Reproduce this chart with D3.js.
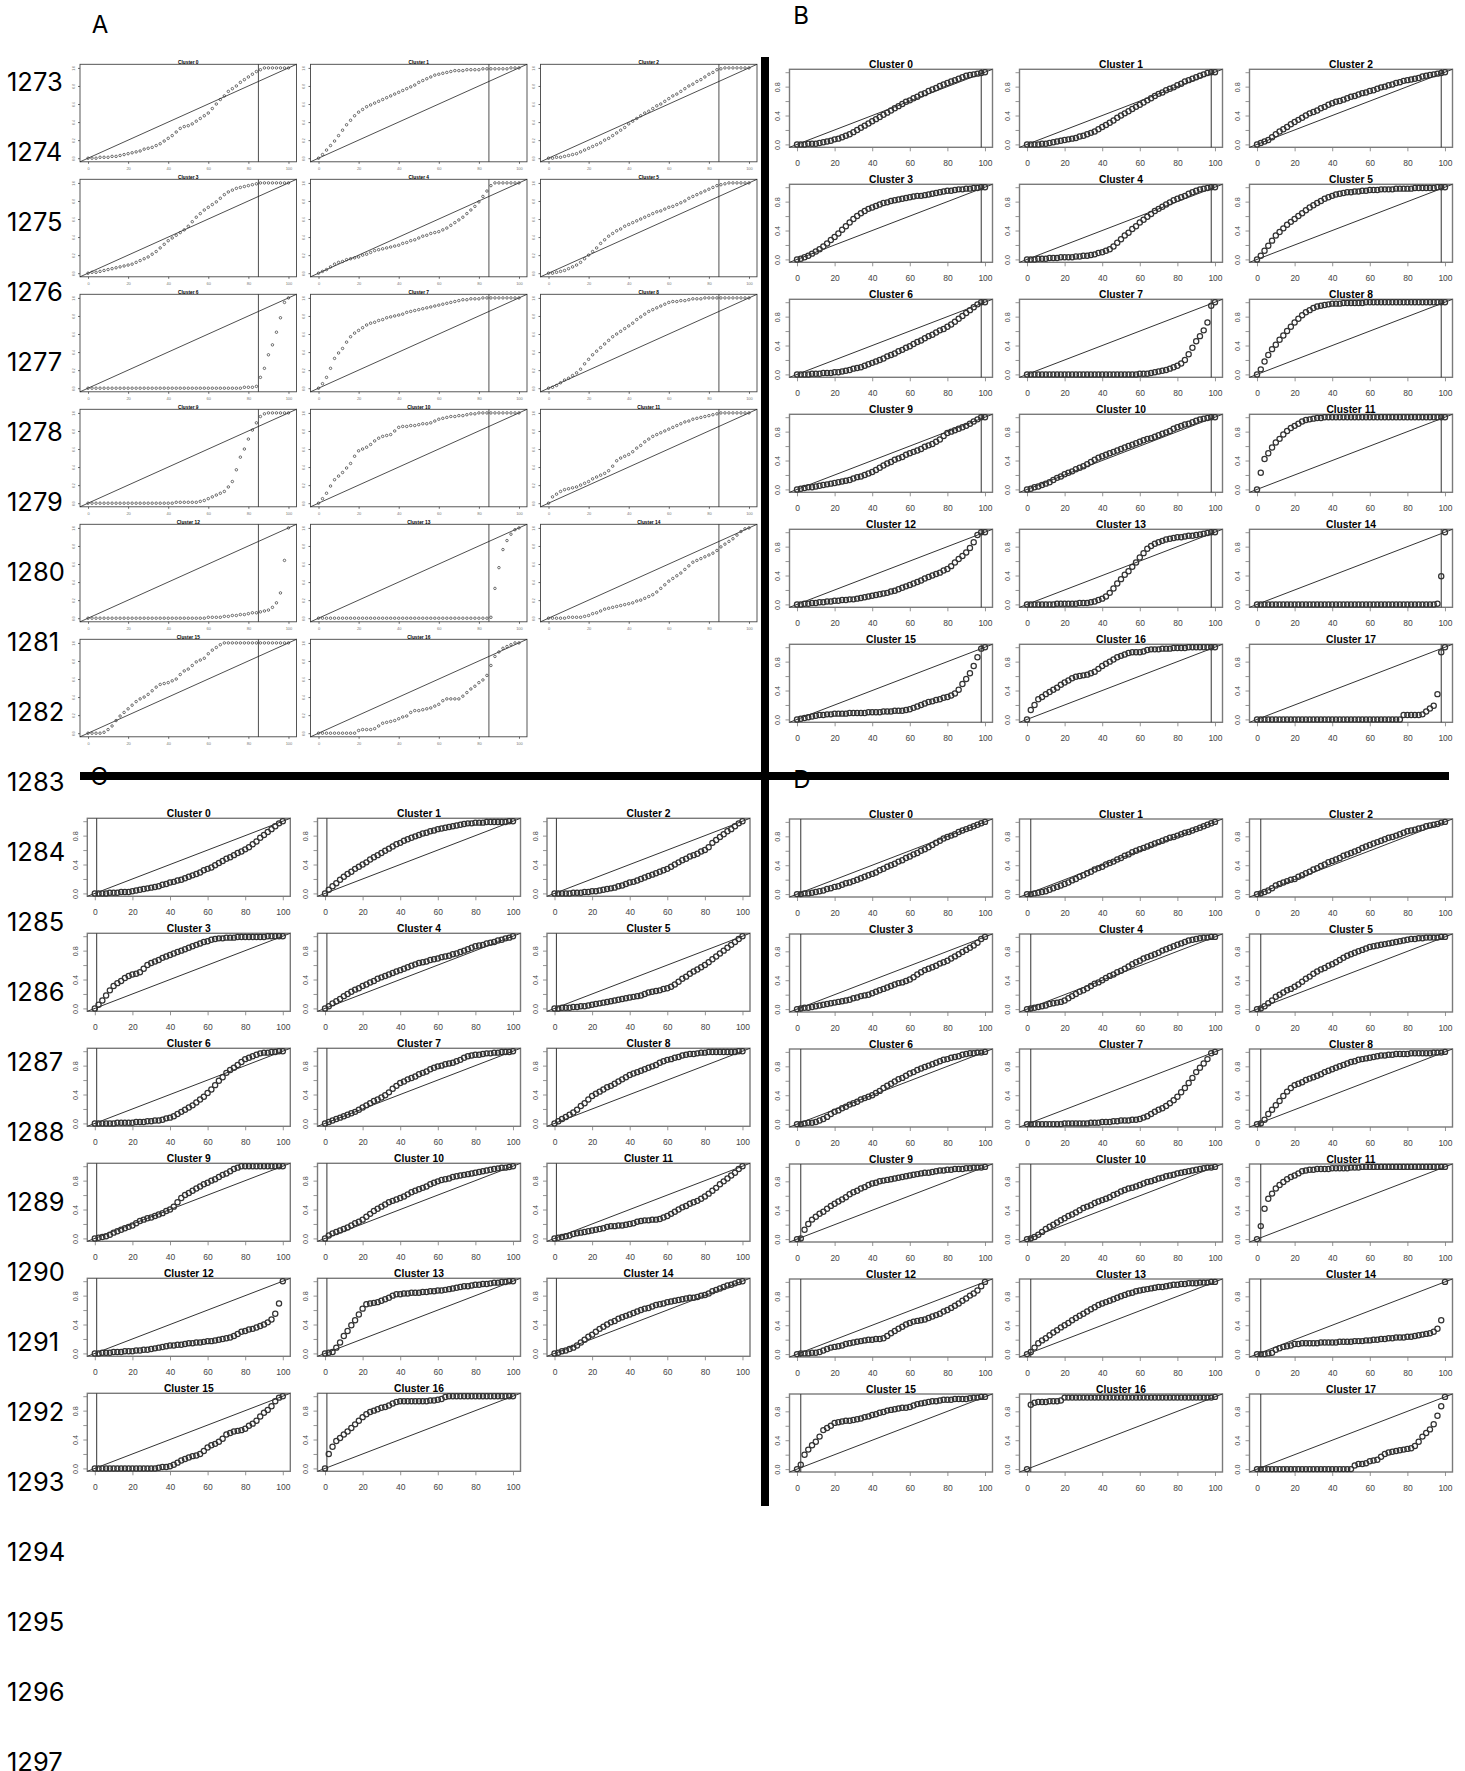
<!DOCTYPE html>
<html>
<head>
<meta charset="utf-8">
<script src="https://cdn.jsdelivr.net/npm/d3@7"></script>
<style>
  body { margin: 0; background: #fff; }
  svg { display: block; }
</style>
</head>
<body>
<svg id="fig" width="1465" height="1771"></svg>
<script>
// Percentile positions shared by every cumulative curve
const xPct = [0,2,4,6,8,10,12,14,16,18,20,22,24,26,28,30,32,34,36,38,40,42,44,46,48,50,
              52,54,56,58,60,62,64,66,68,70,72,74,76,78,80,82,84,86,88,90,92,94,96,98,100];

const xTicks = [0, 20, 40, 60, 80, 100];
const yTicks = [0, 0.2, 0.4, 0.6, 0.8, 1.0];
const yLabelsSmall = ["0.0", "0.2", "0.4", "0.6", "0.8", "1.0"];
const yLabelsLarge = ["0.0", "", "0.4", "", "0.8", ""];

const clusterTitles = ["Cluster 0","Cluster 1","Cluster 2","Cluster 3","Cluster 4","Cluster 5",
  "Cluster 6","Cluster 7","Cluster 8","Cluster 9","Cluster 10","Cluster 11","Cluster 12",
  "Cluster 13","Cluster 14","Cluster 15","Cluster 16","Cluster 17"];

const rowLabels = [1273,1274,1275,1276,1277,1278,1279,1280,1281,1282,1283,1284,1285,
                   1286,1287,1288,1289,1290,1291,1292,1293,1294,1295,1296,1297];

const panelLetters = ["A", "B", "C", "D"];

// Reference (vertical line) position for each panel, in percentile units
const cutoffA = 85, cutoffB = 98, cutoffC = 1, cutoffD = 2;

// Cumulative fraction (%) at each percentile, one row per cluster
const curvesA = [
  [0,0,0,1,1,1,2,2,3,4, 5,6,7,8,10,11,12,14,16,19, 22,25,29,33,35,36,38,41,44,47, 50,55,60,65,69,74,77,80,84,87, 90,93,96,98,100,100,100,100,100,100, 100],
  [0,4,9,14,19,25,31,37,42,47, 51,54,57,59,61,63,65,67,69,71, 73,75,77,79,81,84,86,88,90,92, 93,94,95,96,97,97,97,98,98,98, 98,99,99,99,99,99,99,99,100,100, 100],
  [0,0,1,1,2,3,4,5,7,9, 11,13,15,17,20,22,25,28,31,34, 38,41,44,47,50,52,55,58,60,63, 66,69,71,74,77,80,82,85,87,90, 93,95,98,99,100,100,100,100,100,100, 100],
  [0,1,1,2,3,4,5,6,7,8, 9,10,12,14,16,18,21,24,28,32, 36,39,42,45,48,52,57,62,66,70, 73,76,79,83,87,90,92,94,95,96, 97,98,99,100,100,100,100,100,100,100, 100],
  [0,2,4,7,10,12,13,15,16,17, 18,20,21,23,25,26,27,28,29,30, 31,33,34,36,37,39,41,42,44,45, 46,48,50,53,56,59,62,66,70,74, 79,85,91,97,100,100,100,100,100,100, 100],
  [0,0,1,2,3,5,7,9,12,16, 20,24,28,33,37,41,44,47,49,52, 54,56,58,60,62,64,66,68,69,71, 73,74,76,78,80,83,85,87,89,91, 93,95,97,98,99,100,100,100,100,100, 100],
  [0,0,0,0,0,0,0,0,0,0, 0,0,0,0,0,0,0,0,0,0, 0,0,0,0,0,0,0,0,0,0, 0,0,0,0,0,0,0,0,0,1, 1,1,2,12,22,37,48,62,78,95, 100],
  [0,5,12,22,33,39,44,51,57,61, 64,67,70,72,73,75,76,78,79,80, 81,82,84,85,86,87,88,89,90,91, 92,93,94,95,96,97,98,98,99,99, 99,100,100,100,100,100,100,100,100,100, 100],
  [0,1,3,6,9,11,14,17,21,27, 32,37,41,45,49,53,57,60,63,66, 69,72,76,79,82,85,87,89,91,93, 95,96,96,97,97,98,99,99,99,100, 100,100,100,100,100,100,100,100,100,100, 100],
  [0,0,0,0,0,0,0,0,0,0, 0,0,0,0,0,0,0,0,0,0, 0,0,1,1,1,1,1,1,2,3, 5,7,9,11,13,18,24,37,51,60, 71,81,89,96,99,100,100,100,100,100, 100],
  [0,5,11,19,26,30,34,39,44,52, 58,60,62,65,69,72,74,75,76,80, 84,85,85,86,86,87,88,88,89,91, 93,94,95,96,96,97,97,98,99,99, 100,100,100,100,100,100,100,100,100,100, 100],
  [0,7,10,13,15,16,17,18,20,22, 24,27,29,31,33,36,41,47,50,52, 54,57,61,64,68,71,74,76,78,80, 82,84,86,88,90,91,93,94,95,96, 97,98,99,100,100,100,100,100,100,100, 100],
  [0,0,0,0,0,0,0,0,0,0, 0,0,0,0,0,0,0,0,0,0, 0,0,0,0,0,0,0,0,0,0, 1,1,1,1,2,2,3,3,4,4, 5,6,6,7,8,9,12,17,28,64, 100],
  [0,0,0,0,0,0,0,0,0,0, 0,0,0,0,0,0,0,0,0,0, 0,0,0,0,0,0,0,0,0,0, 0,0,0,0,0,0,0,0,0,0, 0,0,0,1,33,56,76,86,93,98, 100],
  [0,0,0,0,0,1,1,1,1,2, 3,5,6,8,10,11,12,13,14,15, 16,17,19,20,22,24,26,29,33,37, 41,44,47,50,54,58,62,64,66,68, 70,72,75,79,82,85,88,92,96,99, 100],
  [0,0,0,0,1,4,8,14,19,23, 27,31,35,38,40,43,47,51,54,55, 56,58,60,65,69,71,75,79,81,83, 88,92,95,98,100,100,100,100,100,100, 100,100,100,100,100,100,100,100,100,100, 100],
  [0,0,0,0,0,0,0,0,0,0, 3,4,4,4,5,8,11,12,13,14, 16,18,19,23,25,25,26,27,28,30, 32,36,38,38,38,38,41,45,49,52, 56,59,64,75,85,90,94,96,98,100, 100]
];

const curvesB = [
  [0,0,0,1,1,1,2,3,4,5, 7,8,10,12,14,17,20,23,26,29, 32,35,38,41,44,47,50,53,56,59, 61,64,66,69,71,74,76,78,81,83, 85,87,89,91,93,95,96,97,98,99, 100],
  [0,0,0,0,1,1,2,3,4,5, 6,7,8,9,11,12,14,16,18,21, 24,27,30,33,37,40,43,46,49,52, 55,58,61,64,67,70,72,75,77,79, 82,84,87,89,91,93,95,97,99,100, 100],
  [0,2,4,6,10,14,18,21,24,28, 31,34,37,40,43,45,47,50,52,55, 57,59,60,62,64,66,67,69,71,72, 74,75,77,79,80,82,83,85,86,88, 89,90,91,92,94,95,96,97,98,99, 100],
  [0,1,3,5,8,11,14,18,22,27, 31,36,41,46,51,56,60,64,67,70, 72,74,76,78,79,81,82,83,84,85, 86,87,88,88,89,90,91,92,93,94, 95,95,96,97,97,98,98,99,99,100, 100],
  [0,0,0,1,1,1,2,2,2,3, 3,3,3,4,4,5,5,6,7,9, 10,12,14,18,23,28,33,37,42,46, 51,55,59,63,67,70,73,76,79,82, 84,86,88,91,93,95,97,98,99,100, 100],
  [0,5,12,19,26,33,38,43,48,52, 56,60,64,68,72,75,78,81,84,86, 88,90,91,92,93,93,94,94,95,95, 96,96,96,97,97,97,97,98,98,98, 98,98,99,99,99,99,99,99,100,100, 100],
  [0,0,0,0,1,1,1,2,2,2, 3,3,4,5,6,8,9,10,12,14, 16,18,20,22,25,27,29,32,34,37, 39,42,45,47,50,53,55,58,61,63, 66,69,73,77,81,85,89,93,97,100, 100],
  [0,0,0,0,0,0,0,0,0,0, 0,0,0,0,0,0,0,0,0,0, 0,0,0,0,0,0,0,0,0,0, 1,1,1,2,3,4,5,6,8,10, 12,15,20,28,37,46,53,61,72,95, 100],
  [0,7,18,27,35,41,48,54,60,66, 72,77,82,86,89,92,94,95,96,97, 98,98,98,99,99,99,99,99,99,100, 100,100,100,100,100,100,100,100,100,100, 100,100,100,100,100,100,100,100,100,100, 100],
  [0,1,2,3,3,4,5,6,7,8, 9,10,11,12,13,15,17,18,20,22, 24,27,30,33,36,38,41,43,45,48, 50,52,54,56,59,61,63,66,69,74, 78,80,82,84,86,88,91,94,97,100, 100],
  [0,1,3,4,6,8,10,13,16,18, 21,23,25,28,30,32,35,38,41,44, 46,48,50,52,54,56,58,60,62,64, 66,68,70,71,73,75,77,79,81,84, 86,88,90,91,93,95,97,98,99,100, 100],
  [0,23,42,50,58,65,70,76,81,85, 88,91,94,96,97,98,99,99,100,100, 100,100,100,100,100,100,100,100,100,100, 100,100,100,100,100,100,100,100,100,100, 100,100,100,100,100,100,100,100,100,100, 100],
  [0,0,1,1,2,2,3,3,4,4, 5,5,6,6,7,7,8,9,10,11, 12,13,14,15,16,18,19,21,23,25, 27,29,31,33,36,38,40,42,44,47, 49,53,58,63,67,72,78,86,96,100, 100],
  [0,0,0,0,0,0,0,0,1,1, 1,1,1,1,2,2,2,3,4,6, 8,11,16,22,29,35,41,46,52,58, 65,71,77,81,84,86,88,90,91,92, 93,93,94,95,95,96,97,98,99,100, 100],
  [0,0,0,0,0,0,0,0,0,0, 0,0,0,0,0,0,0,0,0,0, 0,0,0,0,0,0,0,0,0,0, 0,0,0,0,0,0,0,0,0,0, 0,0,0,0,0,0,0,0,1,39, 100],
  [0,1,2,3,4,5,6,6,7,7, 8,8,8,8,9,9,9,9,9,10, 10,10,10,11,11,11,12,12,12,13, 14,16,18,20,22,24,25,27,28,30, 31,33,36,41,49,56,64,74,86,98, 100],
  [0,13,20,28,31,35,38,41,44,48, 51,54,57,59,60,61,62,64,66,70, 74,77,80,83,86,88,90,92,93,93, 93,94,96,97,97,97,98,98,98,99, 99,99,99,100,100,100,100,100,100,100, 100],
  [0,0,0,0,0,0,0,0,0,0, 0,0,0,0,0,0,0,0,0,0, 0,0,0,0,0,0,0,0,0,0, 0,0,0,0,0,0,0,0,0,6, 6,6,6,6,7,11,15,19,35,93, 100]
];

const curvesC = [
  [0,0,0,0,1,1,1,2,2,2, 3,4,5,6,7,8,9,10,12,13, 15,16,18,19,21,23,25,27,29,32, 34,36,39,42,45,48,50,53,56,58, 61,64,68,72,77,81,85,89,93,97, 100],
  [0,5,10,14,19,23,27,30,34,37, 40,43,47,50,53,56,59,62,65,68, 70,73,75,77,79,81,83,84,86,87, 89,90,91,92,93,94,95,96,97,97, 98,98,98,99,99,99,99,99,99,100, 100],
  [0,0,0,0,0,1,1,1,2,2, 3,3,4,5,6,7,8,10,11,13, 15,16,18,20,22,24,26,28,30,32, 34,37,40,43,46,48,51,53,55,58, 60,64,70,74,78,82,86,89,93,97, 100],
  [0,5,11,18,25,31,35,38,42,45, 47,48,50,55,60,63,65,67,70,72, 74,76,78,80,82,84,86,88,90,92, 93,95,96,97,97,98,98,98,99,99, 99,99,99,99,99,99,100,100,100,100, 100],
  [0,3,7,10,13,17,20,23,26,28, 31,33,36,38,41,43,45,47,49,51, 53,55,57,59,61,63,64,65,67,68, 69,71,72,73,75,76,78,80,82,84, 86,87,88,90,91,92,94,95,97,98, 100],
  [0,0,1,1,1,2,2,3,3,4, 5,6,7,8,9,10,11,12,13,14, 15,16,17,18,20,22,23,24,25,27, 28,30,33,37,41,44,48,51,54,57, 60,64,68,72,76,80,84,88,92,96, 100],
  [0,0,0,0,0,0,1,1,1,1, 1,2,2,2,3,3,4,4,5,7, 8,10,13,16,19,22,25,29,33,37, 42,47,53,59,64,70,74,77,81,85, 89,91,93,95,97,98,98,99,99,100, 100],
  [0,2,4,6,8,10,12,14,16,19, 22,25,28,31,33,36,39,43,48,52, 56,58,61,63,65,68,70,72,75,77, 79,80,82,83,84,86,88,91,93,94, 95,95,96,97,97,98,98,99,99,99, 100],
  [0,3,6,9,12,15,19,24,28,33, 38,41,44,47,50,52,55,58,61,64, 67,69,71,73,75,77,79,81,84,86, 88,89,91,92,94,95,96,96,97,98, 98,99,99,99,99,99,99,99,99,100, 100],
  [0,1,2,3,5,8,10,12,14,16, 18,21,24,26,28,29,31,33,35,38, 40,44,50,56,60,63,66,69,72,75, 77,80,82,85,88,90,93,96,98,100, 100,100,100,100,100,100,100,100,100,100, 100],
  [0,4,7,9,11,13,15,18,21,23, 26,30,34,38,41,44,47,50,52,54, 56,58,61,64,66,68,70,72,75,77, 79,81,82,83,85,86,87,88,89,90, 91,92,93,94,95,96,97,98,98,99, 100],
  [0,1,2,3,4,6,7,8,9,10, 11,12,13,14,16,17,17,18,18,19, 20,21,23,24,25,25,26,26,27,29, 31,34,37,40,43,45,48,50,52,55, 58,62,66,70,75,79,83,87,91,96, 100],
  [0,0,1,1,1,2,2,2,3,3, 3,4,4,5,5,6,7,8,9,10, 11,11,12,12,13,14,14,15,15,16, 17,17,18,19,20,21,22,24,27,30, 31,33,34,36,38,40,43,47,55,69, 100],
  [0,1,2,8,15,24,31,39,46,54, 62,68,69,70,71,73,75,77,80,82, 82,83,83,84,84,84,85,85,86,86, 87,87,88,89,90,91,92,93,93,94, 95,95,96,96,97,98,98,99,99,100, 100],
  [0,1,3,4,6,8,11,15,19,23, 26,30,34,37,40,43,45,48,50,52, 54,56,58,60,62,63,65,67,68,69, 71,72,73,74,75,76,77,77,78,80, 81,83,86,88,90,92,94,95,97,99, 100],
  [0,0,0,0,0,0,0,0,0,0, 0,0,0,0,0,0,0,1,2,2, 3,5,8,11,13,15,17,18,20,24, 29,32,34,37,41,47,49,51,52,53, 55,59,62,66,72,77,81,86,93,98, 100],
  [0,20,30,38,42,47,51,56,61,66, 71,75,78,80,82,84,85,87,90,92, 93,93,93,93,93,93,93,93,94,94, 95,96,99,100,100,100,100,100,100,100, 100,100,100,100,100,100,100,100,100,100, 100]
];

const curvesD = [
  [0,0,1,1,2,3,4,5,7,8, 10,11,13,15,16,18,20,22,24,26, 28,30,33,35,38,40,42,45,47,50, 52,55,57,60,62,65,68,71,74,77, 79,81,83,86,88,90,92,94,96,98, 100],
  [0,0,1,2,3,4,6,8,10,12, 14,16,19,21,24,26,29,31,34,36, 38,41,43,45,48,50,53,55,58,60, 62,64,66,68,70,72,74,76,78,79, 81,83,85,86,88,90,92,94,96,98, 100],
  [0,1,3,5,8,12,14,16,18,20, 21,24,26,29,31,34,36,39,41,44, 46,48,50,53,55,57,59,61,64,66, 68,70,72,74,76,78,79,81,83,85, 87,88,89,91,92,94,95,96,97,99, 100],
  [0,1,2,2,3,4,5,6,7,8, 9,10,11,12,13,15,16,18,19,20, 22,24,26,28,30,32,34,36,37,39, 41,44,48,51,54,56,58,60,63,65, 67,70,73,76,79,82,85,88,92,97, 100],
  [0,1,2,3,4,5,7,8,9,10, 12,15,18,21,24,26,29,32,35,37, 40,43,46,48,51,53,56,59,62,65, 67,70,72,74,76,78,81,83,85,87, 89,91,93,95,96,97,98,99,99,100, 100],
  [0,1,4,8,12,17,20,23,26,28, 31,34,38,42,45,49,52,55,57,60, 62,65,68,71,74,76,78,80,82,84, 86,87,88,89,90,91,92,93,94,95, 96,97,97,98,98,99,99,99,99,100, 100],
  [0,0,1,2,2,3,5,7,10,14, 17,19,22,24,27,29,31,34,36,38, 40,43,46,50,53,56,59,62,64,67, 70,72,75,77,79,81,83,85,87,89, 90,92,93,94,96,97,98,98,99,99, 100],
  [0,0,0,0,0,0,0,0,0,0, 1,1,1,1,1,1,1,2,2,2, 3,3,3,4,4,5,5,5,6,6, 7,9,11,14,17,20,22,25,29,33, 38,44,50,57,64,72,78,84,90,98, 100],
  [0,1,6,14,20,26,32,39,45,50, 54,56,58,61,63,65,67,69,72,74, 76,78,80,82,84,86,87,89,90,91, 92,93,94,95,95,96,96,97,97,97, 97,98,98,98,98,98,98,99,99,99, 100],
  [0,1,13,21,27,31,35,38,42,46, 49,52,55,58,62,65,67,70,72,75, 77,78,80,81,82,83,84,85,86,87, 88,89,90,91,92,92,93,94,95,95, 96,96,97,97,97,98,98,99,99,99, 100],
  [0,1,3,6,10,14,17,20,23,26, 29,32,34,37,40,43,45,47,50,52, 54,56,58,61,63,66,68,70,71,73, 75,77,79,80,82,84,85,87,88,89, 91,92,93,94,95,96,97,98,99,99, 100],
  [0,18,42,56,63,70,75,79,83,86, 88,91,94,95,96,96,97,97,97,97, 98,98,98,98,98,99,99,99,100,100, 100,100,100,100,100,100,100,100,100,100, 100,100,100,100,100,100,100,100,100,100, 100],
  [0,1,1,1,2,2,3,5,7,9, 10,11,12,14,15,16,17,18,19,20, 20,21,21,22,25,29,32,35,38,41, 43,45,46,47,48,50,52,54,56,59, 61,64,67,70,74,77,81,84,88,94, 100],
  [0,3,9,15,19,22,26,30,33,37, 40,43,47,50,53,56,59,62,65,68, 70,72,74,76,78,80,82,84,85,87, 88,89,90,91,92,93,93,94,95,96, 96,97,97,98,98,98,99,99,99,100, 100],
  [0,0,0,1,2,6,8,10,11,12, 14,14,15,15,15,15,15,16,16,16, 16,16,17,17,17,17,18,18,18,19, 19,20,20,21,21,22,22,23,23,23, 24,24,25,26,27,28,29,31,35,47, 100],
  [0,6,20,27,33,38,45,54,57,60, 64,65,66,67,67,68,69,70,72,73, 75,76,78,79,81,82,83,84,85,85, 86,88,90,91,92,93,94,94,95,96, 96,96,97,97,97,97,98,99,99,100, 100],
  [0,89,92,93,93,93,94,94,94,95, 99,99,99,99,99,99,99,99,99,99, 99,99,99,99,99,99,99,99,99,99, 99,99,99,99,99,99,99,99,99,99, 99,99,99,99,99,99,99,99,99,99, 100],
  [0,0,0,0,0,0,0,0,0,0, 0,0,0,0,0,0,0,0,0,0, 0,0,0,0,0,0,5,7,7,8, 11,12,13,17,21,23,24,25,26,27, 28,29,32,38,45,50,55,62,74,87, 100]
];

// ---------------------------------------------------------------------------
const W = 1465, H = 1771;
const svg = d3.select("#fig");
svg.append("rect").attr("width", W).attr("height", H).attr("fill", "#fff");

const plotFont = "'Liberation Sans', Arial, Helvetica, sans-serif";
const labelFont = "Inter, 'Liberation Sans', Arial, sans-serif";

// Two drawing styles: the tiny thumbnails of A and the larger plots of B–D
const styleSmall = {
  w: 216.5, h: 97.5, titleSize: 4.8, titleGap: 0.6, tickSize: 4, tickLen: 2,
  xLabelGap: 8, yLabelGap: 5.5, r: 1.25, sw: 0.7, pointStroke: "#333",
  boxStroke: "#444", boxWidth: 0.9, lineStroke: "#222", lineWidth: 0.8,
  labelFill: "#777", yLabels: yLabelsSmall
};
const styleLarge = {
  w: 203, h: 78, titleSize: 10.3, titleGap: 1, tickSize: 8.5, tickLen: 4,
  xLabelGap: 18.5, yLabelGap: 9.5, r: 2.6, sw: 1.25, pointStroke: "#333",
  boxStroke: "#7a7a7a", boxWidth: 1.4, lineStroke: "#333", lineWidth: 1,
  labelFill: "#444", yLabels: yLabelsLarge
};

const panels = [
  { curves: curvesA, cutoff: cutoffA, cols: [80, 310.5, 540.5], top0: 64.3, st: styleSmall },
  { curves: curvesB, cutoff: cutoffB, cols: [789.5, 1019.5, 1249.5], top0: 69.3, st: styleLarge },
  { curves: curvesC, cutoff: cutoffC, cols: [87.3, 317.5, 547], top0: 818.3, st: styleLarge },
  { curves: curvesD, cutoff: cutoffD, cols: [789.5, 1019.5, 1249.5], top0: 819, st: styleLarge }
];
const rowStep = 115;

function drawPlot(vals, k, panel) {
  const st = panel.st;
  const left = panel.cols[k % 3];
  const top = panel.top0 + Math.floor(k / 3) * rowStep;
  const x = d3.scaleLinear().domain([-4, 104]).range([left, left + st.w]);
  const y = d3.scaleLinear().domain([-0.04, 1.04]).range([top + st.h, top]);
  const g = svg.append("g").attr("font-family", plotFont);

  // x axis
  const gx = g.append("g")
    .attr("transform", `translate(0,${top + st.h})`)
    .call(d3.axisBottom(x).tickValues(xTicks).tickSize(st.tickLen).tickFormat(d3.format("d")));
  gx.select(".domain").remove();
  gx.selectAll(".tick line").attr("stroke", st.boxStroke).attr("stroke-width", 0.8);
  gx.selectAll(".tick text")
    .attr("y", st.xLabelGap).attr("dy", null)
    .attr("font-size", st.tickSize).attr("fill", st.labelFill);

  // y axis, labels parallel to the axis
  const gy = g.append("g")
    .attr("transform", `translate(${left},0)`)
    .call(d3.axisLeft(y).tickValues(yTicks).tickSize(st.tickLen)
      .tickFormat((d, i) => st.yLabels[i]));
  gy.select(".domain").remove();
  gy.selectAll(".tick line").attr("stroke", st.boxStroke).attr("stroke-width", 0.8);
  gy.selectAll(".tick text")
    .attr("x", null).attr("dy", null)
    .attr("transform", `translate(${-st.yLabelGap},0) rotate(-90)`)
    .attr("text-anchor", "middle")
    .attr("font-size", st.tickSize * 0.85).attr("fill", st.labelFill);

  // frame
  g.append("rect")
    .attr("x", x(-4)).attr("y", y(1.04))
    .attr("width", x(104) - x(-4)).attr("height", y(-0.04) - y(1.04))
    .attr("fill", "none").attr("stroke", st.boxStroke).attr("stroke-width", st.boxWidth);

  // uniform reference diagonal
  g.append("line")
    .attr("x1", x(-4)).attr("y1", y(-0.04)).attr("x2", x(104)).attr("y2", y(1.04))
    .attr("stroke", st.lineStroke).attr("stroke-width", st.lineWidth);

  // cutoff line
  g.append("line")
    .attr("x1", x(panel.cutoff)).attr("x2", x(panel.cutoff))
    .attr("y1", y(-0.04)).attr("y2", y(1.04))
    .attr("stroke", st.lineStroke).attr("stroke-width", st.lineWidth);

  // cumulative points
  const pts = xPct.map((p, i) => ({ x: p, y: vals[i] / 100 }));
  g.append("g").selectAll("circle").data(pts).join("circle")
    .attr("cx", d => x(d.x)).attr("cy", d => y(d.y)).attr("r", st.r)
    .attr("fill", "none").attr("stroke", st.pointStroke).attr("stroke-width", st.sw);

  // title
  g.append("text")
    .attr("x", (x(-4) + x(104)) / 2).attr("y", top - st.titleGap)
    .attr("text-anchor", "middle").attr("font-weight", "bold")
    .attr("font-size", st.titleSize).attr("fill", "#000")
    .text(clusterTitles[k]);
}

panels.forEach(p => p.curves.forEach((vals, k) => drawPlot(vals, k, p)));

// Row numbers down the left margin
svg.append("g").selectAll("text").data(rowLabels).join("text")
  .attr("x", 7).attr("y", (d, i) => 81.7 + i * 70 + 9.3)
  .attr("font-family", labelFont)
  .attr("font-size", 25.5).attr("fill", "#000")
  .text(d => d);

// Panel separators
svg.append("rect").attr("x", 761).attr("y", 57).attr("width", 8).attr("height", 1449).attr("fill", "#000");
svg.append("rect").attr("x", 80).attr("y", 772).attr("width", 1369).attr("height", 8).attr("fill", "#000");

// Panel letters
const letterPos = [[100, 33], [801, 23.5], [99, 785], [802, 788]];
svg.append("g").selectAll("text").data(panelLetters).join("text")
  .attr("x", (d, i) => letterPos[i][0]).attr("y", (d, i) => letterPos[i][1])
  .attr("text-anchor", "middle")
  .attr("font-family", labelFont)
  .attr("font-size", 24).attr("fill", "#000")
  .text(d => d);
</script>
</body>
</html>
